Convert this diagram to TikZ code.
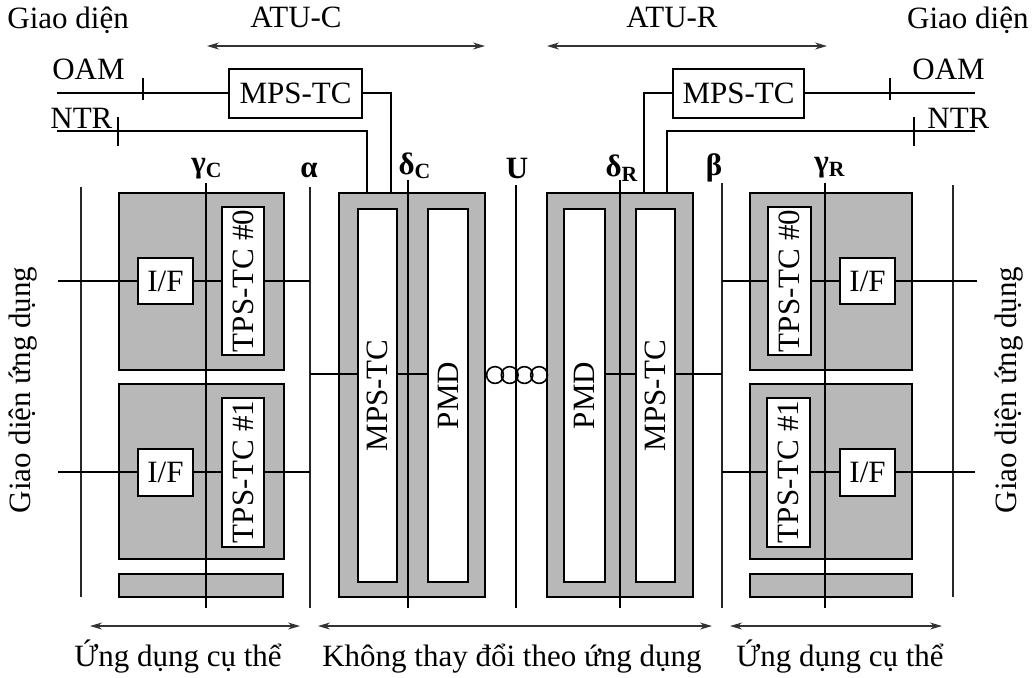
\documentclass[tikz,border=0pt]{standalone}
\usepackage{fontspec}
\setmainfont{Liberation Serif}
\usetikzlibrary{arrows.meta, calc}
\tikzset{
  blk/.style    = {rectangle, draw, line width=1pt, fill=black!28,
                   inner sep=0pt},
  wbox/.style   = {rectangle, draw, line width=1pt, fill=white,
                   inner sep=0pt, font=\fontsize{15.5}{18}\selectfont},
  lbl/.style    = {inner sep=0pt, font=\fontsize{15.5}{18}\selectfont},
  vlbl/.style   = {lbl, rotate=90},
  refl/.style   = {line width=1.3pt, black!85},
  thinl/.style  = {line width=0.7pt},
  wire/.style   = {line width=0.8pt},
  dim/.style    = {{Stealth[length=6pt,width=3.5pt]}-{Stealth[length=6pt,width=3.5pt]},
                   line width=0.6pt, black!80},
}

\begin{document}
\begin{tikzpicture}[x=0.5pt, y=-0.5pt]
\useasboundingbox (0,0) rectangle (1032,677);

% ── Application blocks (ATU-C side) ─────────────────────
\node[blk, minimum width=82.5pt, minimum height=88.5pt] (appC0) at (201.5,281.5) {};
\node[blk, minimum width=82.5pt, minimum height=87.5pt] (appC1) at (201.5,471.5) {};
\node[blk, minimum width=82pt, minimum height=11.5pt] (stripC) at (201,585.5) {};
\node[wbox, minimum width=27.5pt, minimum height=23pt] (ifC0) at (165.5,281) {I/F};
\node[wbox, minimum width=27.5pt, minimum height=23.5pt] (ifC1) at (165.5,472) {I/F};
\node[wbox, minimum width=21pt, minimum height=74pt,
      label={[vlbl]center:TPS-TC \#0}] (tpsC0) at (243,281) {};
\node[wbox, minimum width=21pt, minimum height=74.5pt,
      label={[vlbl]center:TPS-TC \#1}] (tpsC1) at (243,472) {};

% ── ATU-C core ──────────────────────────────────────────
\node[blk, minimum width=73pt, minimum height=202pt] (atuC) at (412,395) {};
\node[wbox, minimum width=19.5pt, minimum height=186.5pt,
      label={[vlbl]center:MPS-TC}] (mpsC) at (377.5,395.5) {};
\node[wbox, minimum width=20pt, minimum height=186.5pt,
      label={[vlbl]center:PMD}] (pmdC) at (448,395.5) {};

% ── ATU-R core ──────────────────────────────────────────
\node[blk, minimum width=73pt, minimum height=202pt] (atuR) at (620,395) {};
\node[wbox, minimum width=20.5pt, minimum height=186.5pt,
      label={[vlbl]center:PMD}] (pmdR) at (584.5,395.5) {};
\node[wbox, minimum width=19.5pt, minimum height=186.5pt,
      label={[vlbl]center:MPS-TC}] (mpsR) at (655.5,395.5) {};

% ── Application blocks (ATU-R side) ─────────────────────
\node[blk, minimum width=81pt, minimum height=88.5pt] (appR0) at (831,281.5) {};
\node[blk, minimum width=81pt, minimum height=87.5pt] (appR1) at (831,471.5) {};
\node[blk, minimum width=81pt, minimum height=11.5pt] (stripR) at (831,585.5) {};
\node[wbox, minimum width=21.5pt, minimum height=74pt,
      label={[vlbl]center:TPS-TC \#0}] (tpsR0) at (789.5,281) {};
\node[wbox, minimum width=21.5pt, minimum height=74.5pt,
      label={[vlbl]center:TPS-TC \#1}] (tpsR1) at (788.5,472) {};
\node[wbox, minimum width=27.5pt, minimum height=23pt] (ifR0) at (867.5,281) {I/F};
\node[wbox, minimum width=27.5pt, minimum height=23.5pt] (ifR1) at (867.5,472) {I/F};

% ── Management MPS-TC ───────────────────────────────────
\node[wbox, minimum width=66.5pt, minimum height=24.5pt] (topC) at (295.5,93) {MPS-TC};
\node[wbox, minimum width=65.5pt, minimum height=24.5pt] (topR) at (738.5,93) {MPS-TC};

% ── Reference points ────────────────────────────────────
\foreach \n/\x/\t/\b/\s in {outL/81/187/597/refl, gC/206/183/608/thinl,
    al/310/187/608/refl, dC/408/180/608/thinl, uu/516/185/608/thinl,
    dR/620/180/608/thinl, be/722/183/608/refl, gR/825/183/608/thinl,
    outR/953/185/597/refl}{
  \coordinate (\n-t) at (\x,\t);
  \coordinate (\n-b) at (\x,\b);
  \draw[\s] (\n-t) -- (\n-b);
}
\node[lbl] (gC-l) at (207,169) {\textbf{γ}\textsubscript{\textbf{C}}};
\node[lbl] (al-l) at (309,170) {\textbf{α}};
\node[lbl] (dC-l) at (415,166) {\textbf{δ}\textsubscript{\textbf{C}}};
\node[lbl] (uu-l) at (517,168) {\textbf{U}};
\node[lbl] (dR-l) at (622,168) {\textbf{δ}\textsubscript{\textbf{R}}};
\node[lbl] (be-l) at (714,168) {\textbf{β}};
\node[lbl] (gR-l) at (830,168) {\textbf{γ}\textsubscript{\textbf{R}}};

% ── Free ends ───────────────────────────────────────────
\coordinate (inL0) at (58,281);
\coordinate (inL1) at (58,472);
\coordinate (inR0) at (977,281);
\coordinate (inR1) at (975,472);
\coordinate (hmid) at (516,374);
\coordinate (oamC) at (57,93);
\coordinate (ntrC) at (57,131);
\coordinate (oamR) at (975,93);
\coordinate (ntrR) at (975,131);

% ── Data paths ──────────────────────────────────────────
\draw[wire] (inL0) -- (ifC0) -- (tpsC0) -- (al-t |- tpsC0);
\draw[wire] (inL1) -- (ifC1) -- (tpsC1) -- (al-t |- tpsC1);
\draw[wire] (be-t |- tpsR0) -- (tpsR0) -- (ifR0) -- (inR0);
\draw[wire] (be-t |- tpsR1) -- (tpsR1) -- (ifR1) -- (inR1);
\draw[wire] (al-t |- hmid) -- (mpsC.west |- hmid);
\draw[wire] (mpsC.east |- hmid) -- (pmdC.west |- hmid);
\draw[wire] (pmdR.east |- hmid) -- (mpsR.west |- hmid);
\draw[wire] (mpsR.east |- hmid) -- (be-t |- hmid);

% ── Line (U) ────────────────────────────────────────────
\foreach \i in {0,...,3}
  \draw[wire] ($(atuC.east |- hmid)+(9+14.7*\i,1)$) circle[radius=4.2pt];

% ── OAM / NTR ───────────────────────────────────────────
\draw[wire] (oamC) -- (topC);
\draw[wire] (topC) -| ($(atuC.north)+(-21,0)$);
\draw[wire] (ntrC) -| ($(atuC.north)+(-45,0)$);
\draw[wire] (oamR) -- (topR);
\draw[wire] (topR) -| ($(atuR.north)+(24,0)$);
\draw[wire] (ntrR) -| ($(atuR.north)+(47,0)$);
\draw[wire] (143,78) -- (143,100);
\draw[wire] (118,117) -- (118,146);
\draw[wire] (890,78) -- (890,100);
\draw[wire] (914,117) -- (914,146);

\node[lbl, anchor=base west] (gdL) at (7,28) {Giao diện};
\node[lbl, anchor=base east] (oamL) at (125,79) {OAM};
\node[lbl, anchor=base west] (ntrL) at (50,128) {NTR};
\node[lbl, anchor=base east] (gdR) at (1029,28) {Giao diện};
\node[lbl, anchor=base west] (oamR-l) at (912,79) {OAM};
\node[lbl, anchor=base west] (ntrR-l) at (927,128) {NTR};

% ── Extents ─────────────────────────────────────────────
\coordinate (atuC-a) at (207,46);  \coordinate (atuC-b) at (485,46);
\coordinate (atuR-a) at (547,46);  \coordinate (atuR-b) at (827,46);
\coordinate (spL-a) at (90,626);   \coordinate (spL-b) at (300,626);
\coordinate (inv-a) at (318,626);  \coordinate (inv-b) at (712,626);
\coordinate (spR-a) at (730,626);  \coordinate (spR-b) at (942,626);
\draw[dim] (atuC-a) -- (atuC-b);
\draw[dim] (atuR-a) -- (atuR-b);
\draw[dim] (spL-a) -- (spL-b);
\draw[dim] (inv-a) -- (inv-b);
\draw[dim] (spR-a) -- (spR-b);

\node[lbl, anchor=base] (atuC-l) at (296,27) {ATU-C};
\node[lbl, anchor=base] (atuR-l) at (672,27) {ATU-R};
\node[lbl, anchor=base] (spL-l) at (178,666) {Ứng dụng cụ thể};
\node[lbl, anchor=base] (inv-l) at (512,666) {Không thay đổi theo ứng dụng};
\node[lbl, anchor=base] (spR-l) at (840,666) {Ứng dụng cụ thể};
\node[vlbl, anchor=base] (apL) at (30,390) {Giao diện ứng dụng};
\node[vlbl, anchor=base] (apR) at (1016,390) {Giao diện ứng dụng};

\end{tikzpicture}
\end{document}
